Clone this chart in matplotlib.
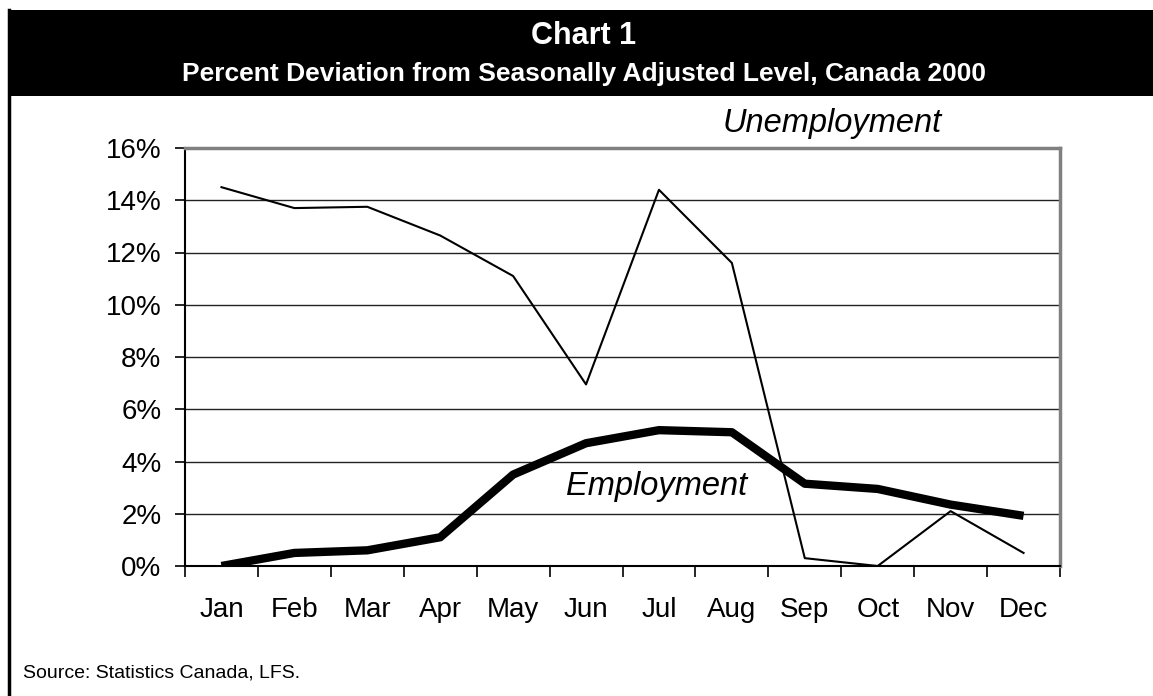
import matplotlib
matplotlib.use("Agg")
import matplotlib.pyplot as plt
from matplotlib.lines import Line2D
from matplotlib.patches import Rectangle
from matplotlib.ticker import FixedLocator, FuncFormatter

months = ["Jan", "Feb", "Mar", "Apr", "May", "Jun", "Jul", "Aug", "Sep", "Oct", "Nov", "Dec"]
unemployment = [14.5, 13.7, 13.75, 12.65, 11.1, 6.95, 14.4, 11.6, 0.3, 0.0, 2.1, 0.5]
employment = [0.0, 0.5, 0.6, 1.1, 3.5, 4.7, 5.2, 5.12, 3.15, 2.95, 2.35, 1.92]
yticks = [0, 2, 4, 6, 8, 10, 12, 14, 16]

W, H = 1153, 696
plt.rcParams['font.family'] = ['Liberation Sans', 'DejaVu Sans']
fig = plt.figure(figsize=(W / 100, H / 100), dpi=100)

# header band and frame
fig.add_artist(Rectangle((8 / W, 1 - 96 / H), 1 - 8 / W, 86 / H, transform=fig.transFigure,
                         facecolor='black', edgecolor='none'))
fig.add_artist(Line2D([9 / W, 9 / W], [0, 1 - 10 / H], transform=fig.transFigure,
                      color='black', lw=2.5))
fig.text(584 / W, 1 - 44 / H, "Chart 1", color='white', fontsize=22, fontweight='bold',
         ha='center', va='baseline')
fig.text(584 / W, 1 - 81 / H, "Percent Deviation from Seasonally Adjusted Level, Canada 2000",
         color='white', fontsize=19, fontweight='bold', ha='center', va='baseline')
fig.text(23 / W, 1 - 677 / H, "Source: Statistics Canada, LFS.", fontsize=14,
         ha='left', va='baseline')

ax = fig.add_axes([185 / W, (H - 566) / H, 875 / W, 418 / H])
x = list(range(len(months)))
ax.plot(x, unemployment, color='black', lw=1.5, zorder=3)
ax.plot(x, employment, color='black', lw=6, solid_capstyle='butt', zorder=4)

ax.set_xlim(-0.5, len(months) - 0.5)
ax.set_ylim(0, 16)
ax.set_yticks(yticks)
ax.yaxis.set_major_formatter(FuncFormatter(lambda v, p: f"{int(v)}%"))
ax.yaxis.grid(True, color='#222222', lw=1)
ax.set_axisbelow(True)

ax.xaxis.set_major_locator(FixedLocator([i - 0.5 for i in range(len(months) + 1)]))
ax.xaxis.set_major_formatter(FuncFormatter(lambda v, p: ""))
ax.xaxis.set_minor_locator(FixedLocator(x))
ax.set_xticklabels(months, minor=True)
ax.tick_params(axis='x', which='major', direction='out', length=8, width=1.2, color='black')
ax.tick_params(axis='x', which='minor', length=0, pad=22, labelsize=20)
ax.tick_params(axis='y', direction='out', length=7, width=1.2, pad=10, labelsize=20)

for s in ['top', 'right']:
    ax.spines[s].set_color('#808080')
    ax.spines[s].set_linewidth(2.5)
for s in ['left', 'bottom']:
    ax.spines[s].set_color('black')
    ax.spines[s].set_linewidth(1.5)

ax.text(8.38, 16.61, "Unemployment", fontsize=23.5, style='italic', ha='center', va='baseline',
        clip_on=False)
ax.text(5.97, 2.72, "Employment", fontsize=23.5, style='italic', ha='center', va='baseline')

fig.savefig("out.png", dpi=100)
